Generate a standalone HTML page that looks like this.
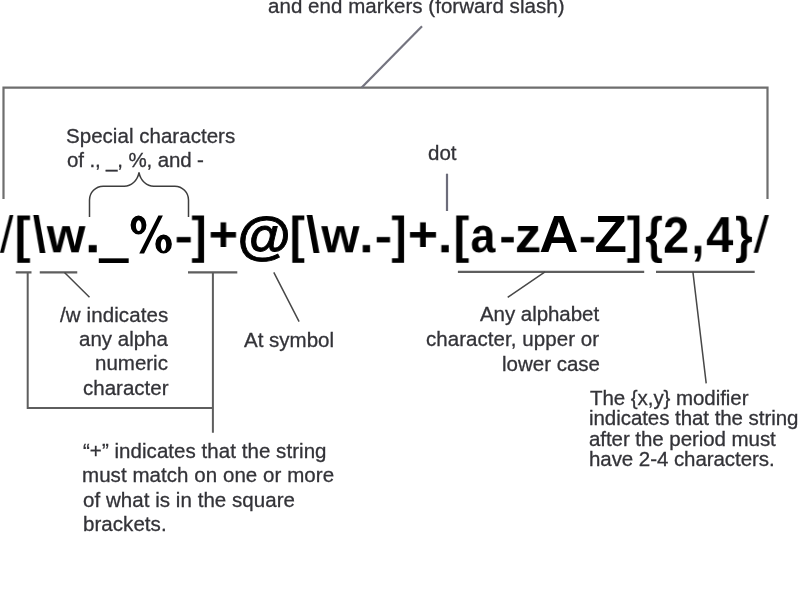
<!DOCTYPE html>
<html><head><meta charset="utf-8"><style>
html,body{margin:0;padding:0;background:#fff;}
body{width:800px;height:600px;position:relative;overflow:hidden;filter:blur(0.35px);font-family:"Liberation Sans",sans-serif;}
.g{position:absolute;left:0;top:0;font-weight:bold;font-size:51px;line-height:51px;color:#000;transform-origin:0 0;white-space:pre;will-change:transform;}
.t{position:absolute;font-size:20.5px;line-height:20.5px;color:#333338;white-space:pre;will-change:transform;-webkit-text-stroke:0.3px #333338;}
</style></head><body>
<svg width="800" height="600" viewBox="0 0 800 600" style="position:absolute;left:0;top:0">
<g fill="none" stroke-linecap="butt">
<path stroke="#6e6e6e" stroke-width="2.2" d="M3.5 199 V87.6 H767.5 V199"/>
<path stroke="#74747f" stroke-width="2.2" d="M422 26.3 L361.7 87.6"/>
<path stroke="#6c6c7a" stroke-width="2.2" d="M447 173.7 V211"/>
<path stroke="#3e3e3e" stroke-width="1.5" d="M89.5 217 V200 C89.5 192.4 95.6 186.2 103.2 186.2 H124.3 C131 186.2 137.5 181 139 172.4 C140.5 181 147 186.2 153.7 186.2 H174.8 C182.4 186.2 188.5 192.4 188.5 200 V217"/>
<g stroke="#5e5e5e" stroke-width="2.2">
<path d="M15.75 272.4 H31.5 M39.75 272.4 H77.25 M188 272.3 H237.3 M457.9 271.9 H644.2 M656 271.8 H754.7"/>
<path stroke-width="2" d="M27.7 272.4 V407.9 H212.9 M212.9 272.3 V432.7"/>
</g>
<g stroke="#484848" stroke-width="1.5">
<path d="M64.5 272.5 L89.5 297.2 M273.8 272.3 L299.1 321.6 M545 271.9 L507.7 297.3 M692.9 271.8 L706.2 383.3"/>
</g>
</g>
<path fill="#000" fill-rule="evenodd" d="M130.60 225.00 a7.90 9.55 0 1 0 15.80 0 a7.90 9.55 0 1 0 -15.80 0 ZM135.90 225.70 a2.80 5.40 0 1 0 5.60 0 a2.80 5.40 0 1 0 -5.60 0 ZM155.35 244.05 a8.25 9.55 0 1 0 16.50 0 a8.25 9.55 0 1 0 -16.50 0 ZM160.80 245.00 a2.70 6.00 0 1 0 5.40 0 a2.70 6.00 0 1 0 -5.40 0 Z M158.4 215.4 L162.9 215.4 L144.1 253.6 L139.25 253.6 Z"/>
</svg>
<span class="g" style="font-weight:normal;transform:translate(-0.14px,210.03px) scale(0.9556,0.9947)">/</span>
<span class="g" style="transform:translate(14.61px,210.67px) scale(0.9409,0.9653)">[</span>
<span class="g" style="transform:translate(32.75px,210.13px) scale(0.9245,0.9744)">\</span>
<span class="g" style="transform:translate(46.75px,212.22px) scale(0.9730,0.9321)">w</span>
<span class="g" style="transform:translate(84.81px,211.69px) scale(1.1178,0.9444)">.</span>
<span class="g" style="transform:translate(99.20px,144.40px) scale(1.0248,2.4000)">_</span>
<span class="g" style="transform:translate(174.53px,213.66px) scale(1.0838,0.8710)">-</span>
<span class="g" style="transform:translate(191.44px,210.67px) scale(0.8890,0.9653)">]</span>
<span class="g" style="transform:translate(208.56px,210.64px) scale(0.9906,0.9324)">+</span>
<span class="g" style="-webkit-text-stroke:0.9px #000;transform:translate(237.47px,208.96px) scale(1.0714,1.0186)">@</span>
<span class="g" style="transform:translate(289.76px,210.67px) scale(0.8890,0.9653)">[</span>
<span class="g" style="transform:translate(306.12px,210.13px) scale(0.9707,0.9744)">\</span>
<span class="g" style="transform:translate(321.35px,212.22px) scale(0.9579,0.9321)">w</span>
<span class="g" style="transform:translate(359.15px,211.69px) scale(1.0200,0.9444)">.</span>
<span class="g" style="transform:translate(374.64px,213.66px) scale(1.0296,0.8710)">-</span>
<span class="g" style="transform:translate(391.44px,210.67px) scale(0.8890,0.9653)">]</span>
<span class="g" style="transform:translate(407.80px,210.64px) scale(1.0180,0.9324)">+</span>
<span class="g" style="transform:translate(437.70px,211.69px) scale(1.0340,0.9444)">.</span>
<span class="g" style="transform:translate(453.55px,210.67px) scale(0.9261,0.9653)">[</span>
<span class="g" style="transform:translate(470.55px,212.05px) scale(0.8737,0.9324)">a</span>
<span class="g" style="transform:translate(499.38px,213.66px) scale(0.9599,0.8710)">-</span>
<span class="g" style="transform:translate(514.87px,211.96px) scale(1.0333,0.9357)">z</span>
<span class="g" style="transform:translate(539.15px,208.40px) scale(1.0636,1.0139)">A</span>
<span class="g" style="transform:translate(578.64px,213.66px) scale(1.0296,0.8710)">-</span>
<span class="g" style="transform:translate(594.41px,209.30px) scale(1.0410,1.0000)">Z</span>
<span class="g" style="transform:translate(626.74px,210.67px) scale(0.8964,0.9653)">]</span>
<span class="g" style="transform:translate(645.27px,210.98px) scale(0.8866,0.9633)">{</span>
<span class="g" style="transform:translate(663.08px,210.47px) scale(0.9161,0.9821)">2</span>
<span class="g" style="transform:translate(691.44px,209.55px) scale(0.9127,1.0138)">,</span>
<span class="g" style="transform:translate(706.17px,210.45px) scale(0.9587,0.9639)">4</span>
<span class="g" style="transform:translate(735.03px,210.98px) scale(0.8841,0.9633)">}</span>
<span class="g" style="font-weight:normal;transform:translate(753.59px,210.03px) scale(1.0778,0.9947)">/</span>
<div class="t" style="letter-spacing:0.048px;left:267.60px;top:-4.35px">and end markers (forward slash)</div>
<div class="t" style="letter-spacing:0.033px;left:65.60px;top:125.65px">Special characters</div>
<div class="t" style="letter-spacing:-0.130px;left:66.50px;top:150.15px">of ., _, %, and -</div>
<div class="t" style="left:428.00px;top:143.15px">dot</div>
<div class="t r" style="letter-spacing:0.102px;transform-origin:100%% 0;right:631.60px;top:304.75px">/w indicates</div>
<div class="t r" style="right:632.48px;top:328.55px">any alpha</div>
<div class="t r" style="right:631.60px;top:353.25px">numeric</div>
<div class="t r" style="right:631.94px;top:378.05px">character</div>
<div class="t" style="left:244.25px;top:329.55px">At symbol</div>
<div class="t r" style="letter-spacing:-0.054px;transform-origin:100%% 0;right:201.24px;top:304.25px">Any alphabet</div>
<div class="t r" style="letter-spacing:0.057px;transform-origin:100%% 0;right:200.54px;top:329.15px">character, upper or</div>
<div class="t r" style="right:199.88px;top:353.65px">lower case</div>
<div class="t" style="letter-spacing:-0.061px;left:590.00px;top:388.15px">The {x,y} modifier</div>
<div class="t" style="letter-spacing:-0.057px;left:589.00px;top:408.45px">indicates that the string</div>
<div class="t" style="letter-spacing:-0.061px;left:589.00px;top:428.85px">after the period must</div>
<div class="t" style="letter-spacing:-0.064px;left:589.00px;top:449.15px">have 2-4 characters.</div>
<div class="t" style="letter-spacing:0.048px;left:82.50px;top:440.85px">“+” indicates that the string</div>
<div class="t" style="letter-spacing:0.057px;left:81.60px;top:465.45px">must match on one or more</div>
<div class="t" style="letter-spacing:0.050px;left:82.50px;top:489.95px">of what is in the square</div>
<div class="t" style="letter-spacing:0.057px;left:82.50px;top:514.35px">brackets.</div>
</body></html>
